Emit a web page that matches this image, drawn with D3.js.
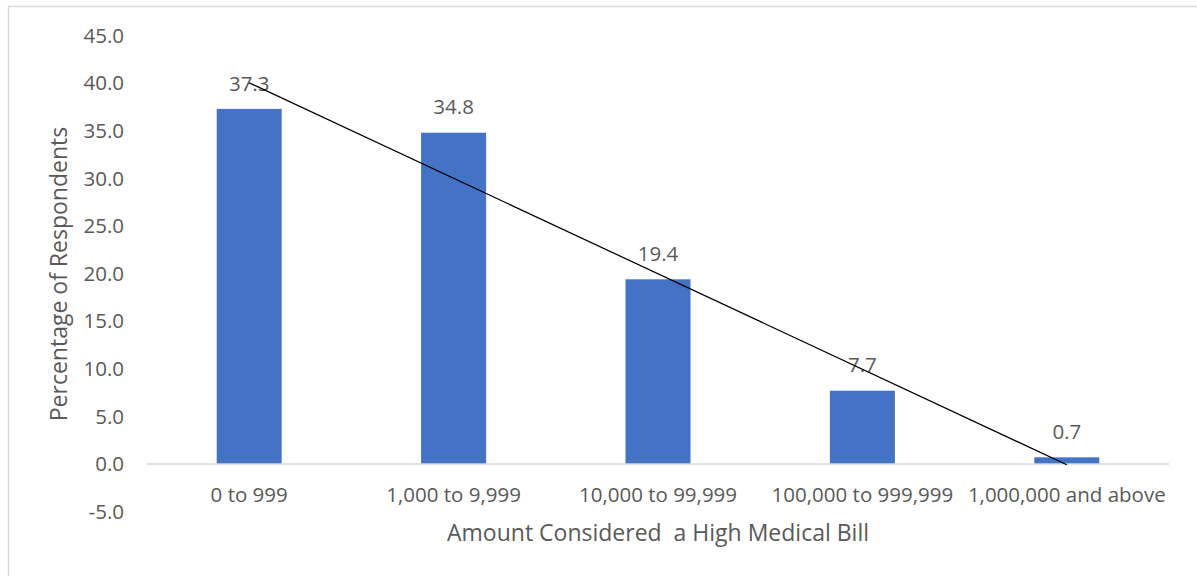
<!DOCTYPE html>
<html>
<head>
<meta charset="utf-8">
<script src="https://cdn.jsdelivr.net/npm/d3@7"></script>
<style>
  body { margin: 0; background: #fff; }
  text { font-family: "Open Sans", "Noto Sans", sans-serif; fill: #595959; }
</style>
</head>
<body>
<svg width="1197" height="576"></svg>
<script>
var categories = ["0 to 999", "1,000 to 9,999", "10,000 to 99,999", "100,000 to 999,999", "1,000,000 and above"];
var values = [37.3, 34.8, 19.4, 7.7, 0.7];
var yTicks = [-5, 0, 5, 10, 15, 20, 25, 30, 35, 40, 45];
var xTitle = "Amount Considered\u00a0 a High Medical Bill";
var yTitle = "Percentage of Respondents";

var width = 1197, height = 576;
var plotLeft = 147, plotRight = 1169, plotTop = 35.6, plotBottom = 511.6;

var svg = d3.select('svg');
var fmt = d3.formatLocale({decimal: ".", thousands: ",", grouping: [3], currency: ["", ""], minus: "-"}).format('.1f');

// chart border (only left and top edges show in the frame)
svg.append('rect')
    .attr('x', 8.5).attr('y', 6.5)
    .attr('width', 1300).attr('height', 700)
    .attr('fill', 'none')
    .attr('stroke', '#d9d9d9')
    .attr('stroke-width', 1.5);

var x = d3.scaleBand()
    .domain(categories)
    .range([plotLeft, plotRight])
    .paddingInner(0.682)
    .paddingOuter(0.341);

var y = d3.scaleLinear()
    .domain([-5, 45])
    .range([plotBottom, plotTop]);

// y tick labels
svg.append('g').selectAll('text')
    .data(yTicks)
    .enter()
    .append('text')
        .attr('x', 124)
        .attr('y', function(d){ return y(d) })
        .attr('dy', '0.35em')
        .style('text-anchor', 'end')
        .style('font-size', '20.5px')
        .text(function(d){ return fmt(d) });

// bars
svg.append('g').selectAll('rect')
    .data(values)
    .enter()
    .append('rect')
        .attr('x', function(d, i){ return x(categories[i]) })
        .attr('y', function(d){ return y(d) })
        .attr('width', x.bandwidth())
        .attr('height', function(d){ return y(0) - y(d) })
        .attr('fill', '#4472c4');

// zero line
svg.append('line')
    .attr('x1', plotLeft).attr('x2', plotRight)
    .attr('y1', y(0)).attr('y2', y(0))
    .attr('stroke', '#d9d9d9')
    .attr('stroke-width', 1.5);

// x category labels
svg.append('g').selectAll('text')
    .data(categories)
    .enter()
    .append('text')
        .attr('x', function(d){ return x(d) + x.bandwidth()/2 })
        .attr('y', y(-3.2))
        .attr('dy', '0.35em')
        .style('text-anchor', 'middle')
        .style('font-size', '20.5px')
        .text(function(d){ return d });

// data labels
svg.append('g').selectAll('text')
    .data(values)
    .enter()
    .append('text')
        .attr('x', function(d, i){ return x(categories[i]) + x.bandwidth()/2 })
        .attr('y', function(d){ return y(d) - 25.5 })
        .attr('dy', '0.35em')
        .style('text-anchor', 'middle')
        .style('font-size', '20.5px')
        .text(function(d){ return fmt(d) });

// linear trendline (least squares over category index)
var n = values.length;
var xs = values.map(function(d, i){ return i + 1 });
var mx = d3.mean(xs), my = d3.mean(values);
var slope = d3.sum(xs, function(v, i){ return (v - mx) * (values[i] - my) }) /
            d3.sum(xs, function(v){ return (v - mx) * (v - mx) });
var intercept = my - slope * mx;
var trend = [1, n].map(function(k){ return [x(categories[k-1]) + x.bandwidth()/2, y(intercept + slope * k)] });

svg.append('path')
    .attr('d', d3.line()(trend))
    .attr('fill', 'none')
    .attr('stroke', '#000')
    .attr('stroke-width', 1.25);

// axis titles
svg.append('text')
    .attr('x', 658)
    .attr('y', 533)
    .attr('dy', '0.35em')
    .style('text-anchor', 'middle')
    .style('font-size', '23px')
    .text(xTitle);

svg.append('text')
    .attr('transform', 'translate(' + 59 + ',' + 274 + ') rotate(-90)')
    .attr('dy', '0.35em')
    .style('text-anchor', 'middle')
    .style('font-size', '23px')
    .text(yTitle);
</script>
</body>
</html>
